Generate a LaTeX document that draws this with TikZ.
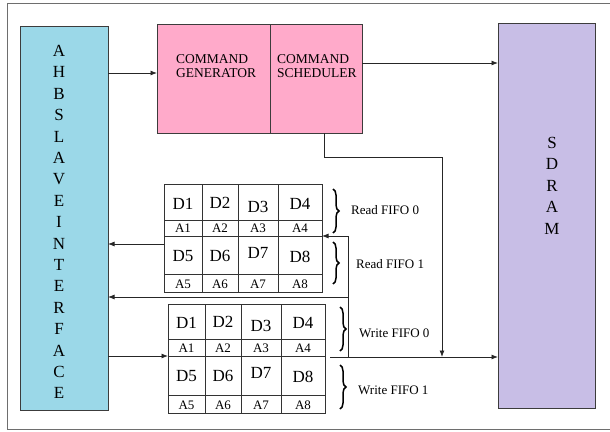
\documentclass[tikz,border=0pt]{standalone}
\usepackage{fontspec}
\setmainfont{Liberation Serif}
\usetikzlibrary{arrows.meta,decorations.pathreplacing}
\definecolor{ahbblue}{RGB}{155,216,232}
\definecolor{cmdpink}{RGB}{255,170,202}
\definecolor{sdlav}{RGB}{200,190,230}
\definecolor{edge}{RGB}{60,60,60}
\definecolor{framegray}{RGB}{110,110,110}
\begin{document}
\begin{tikzpicture}[x=1pt,y=-1pt,
  blk/.style={draw=edge,line width=0.9pt,inner sep=0pt,outer sep=0pt},
  tbl/.style={draw=black!80,line width=0.8pt,inner sep=0pt,outer sep=0pt},
  grid/.style={draw=black!80,line width=0.7pt},
  arr/.style={draw=black!85,line width=0.8pt,-{Latex[length=6.5pt,width=5pt]}},
  dtxt/.style={inner sep=0pt,font=\fontsize{17}{17}\selectfont},
  atxt/.style={inner sep=0pt,font=\fontsize{13}{13}\selectfont},
  cmdtxt/.style={inner sep=0pt,align=left,anchor=west,font=\fontsize{13.5}{13.5}\selectfont},
  fifolbl/.style={inner sep=0pt,anchor=west,font=\fontsize{13}{13}\selectfont},
  vtxt/.style={inner sep=0pt,align=center,anchor=north,font=\fontsize{17}{21.4}\selectfont},
  brc/.style={draw=black,line width=1.5pt,decorate,decoration={brace,amplitude=6pt}}]
\useasboundingbox (0,0) rectangle (610,431);
\draw[framegray,line width=0.9pt] (7,3) rectangle (614,429);

% main blocks
\node[blk,fill=ahbblue,minimum width=88pt,minimum height=384pt] (ahb) at (64,218) {};
\node[vtxt] (ahbtxt) at (59,45) {A\\H\\B\\S\\L\\A\\V\\E\\I\\N\\T\\E\\R\\F\\A\\C\\E};
\node[blk,fill=cmdpink,minimum width=113pt,minimum height=109pt] (gen) at (213.5,78.5) {};
\node[blk,fill=cmdpink,minimum width=92pt,minimum height=109pt] (sched) at (316,78.5) {};
\node[cmdtxt] (gentxt) at (176,66) {COMMAND\\GENERATOR};
\node[cmdtxt] (schedtxt) at (277,66) {COMMAND\\SCHEDULER};
\node[blk,fill=sdlav,minimum width=97pt,minimum height=385pt] (sdram) at (546.5,215.5) {};
\node[vtxt] (sdtxt) at (552,137) {S\\D\\R\\A\\M};

% read FIFO table
\node[tbl,minimum width=158pt,minimum height=108pt] (rf) at (243,238) {};
\foreach \yy in {220,236,274} \draw[grid] (164,\yy) -- (322,\yy);
\foreach \xx in {202,238,278} \draw[grid] (\xx,184) -- (\xx,292);
\foreach \i/\x/\dy in {1/183/0,2/220/-1,3/258/3,4/300/0} {
  \node[dtxt] (rd\i) at (\x,204+\dy) {D\i};
  \node[atxt] (ra\i) at (\x,228.5) {A\i};
}
\foreach \i/\x/\dy in {5/183/0,6/220/0,7/258/-3,8/300/1} {
  \node[dtxt] (rd\i) at (\x,256+\dy) {D\i};
  \node[atxt] (ra\i) at (\x,284) {A\i};
}

% write FIFO table
\node[tbl,minimum width=157pt,minimum height=109pt] (wf) at (246.5,358.5) {};
\foreach \yy in {339,356,395} \draw[grid] (168,\yy) -- (325,\yy);
\foreach \xx in {205,241,281} \draw[grid] (\xx,304) -- (\xx,413);
\foreach \i/\x/\dy in {1/186.5/0,2/223/-1,3/261/3,4/303/0} {
  \node[dtxt] (wd\i) at (\x,323+\dy) {D\i};
  \node[atxt] (wa\i) at (\x,348) {A\i};
}
\foreach \i/\x/\dy in {5/186.5/0,6/223/0,7/261/-3,8/303/1} {
  \node[dtxt] (wd\i) at (\x,376+\dy) {D\i};
  \node[atxt] (wa\i) at (\x,405) {A\i};
}

% braces and labels
\draw[brc] (333,189) -- (333,233);
\draw[brc] (333,242) -- (333,284);
\draw[brc] (340,307) -- (340,351);
\draw[brc] (340,365) -- (340,409);
\node[fifolbl] (lr0) at (351,210) {Read FIFO 0};
\node[fifolbl] (lr1) at (356,264) {Read FIFO 1};
\node[fifolbl] (lw0) at (359,333) {Write FIFO 0};
\node[fifolbl] (lw1) at (358,390) {Write FIFO 1};

% connectors
\coordinate (c1) at (324,157);
\coordinate (c2) at (442,157);
\coordinate (j1) at (442,357);
\coordinate (m0) at (330,357);
\coordinate (v0) at (348,357);
\coordinate (v1) at (348,236);
\coordinate (v2) at (348,297);

\draw[arr] (ahb.east |- 0,73) -- (gen.west |- 0,73);
\draw[arr] (sched.east |- 0,63) -- (sdram.west |- 0,63);
\draw[arr] (sched.south -| c1) -- (c1) -- (c2) -- (j1);
\draw[arr] (m0) -- (sdram.west |- m0);
\draw[arr] (v0) -- (v1) -- (rf.east |- v1);
\draw[arr] (v2) -- (ahb.east |- v2);
\draw[arr] (rf.west |- 0,244) -- (ahb.east |- 0,244);
\draw[arr] (ahb.east |- 0,356) -- (wf.west |- 0,356);
\end{tikzpicture}
\end{document}
